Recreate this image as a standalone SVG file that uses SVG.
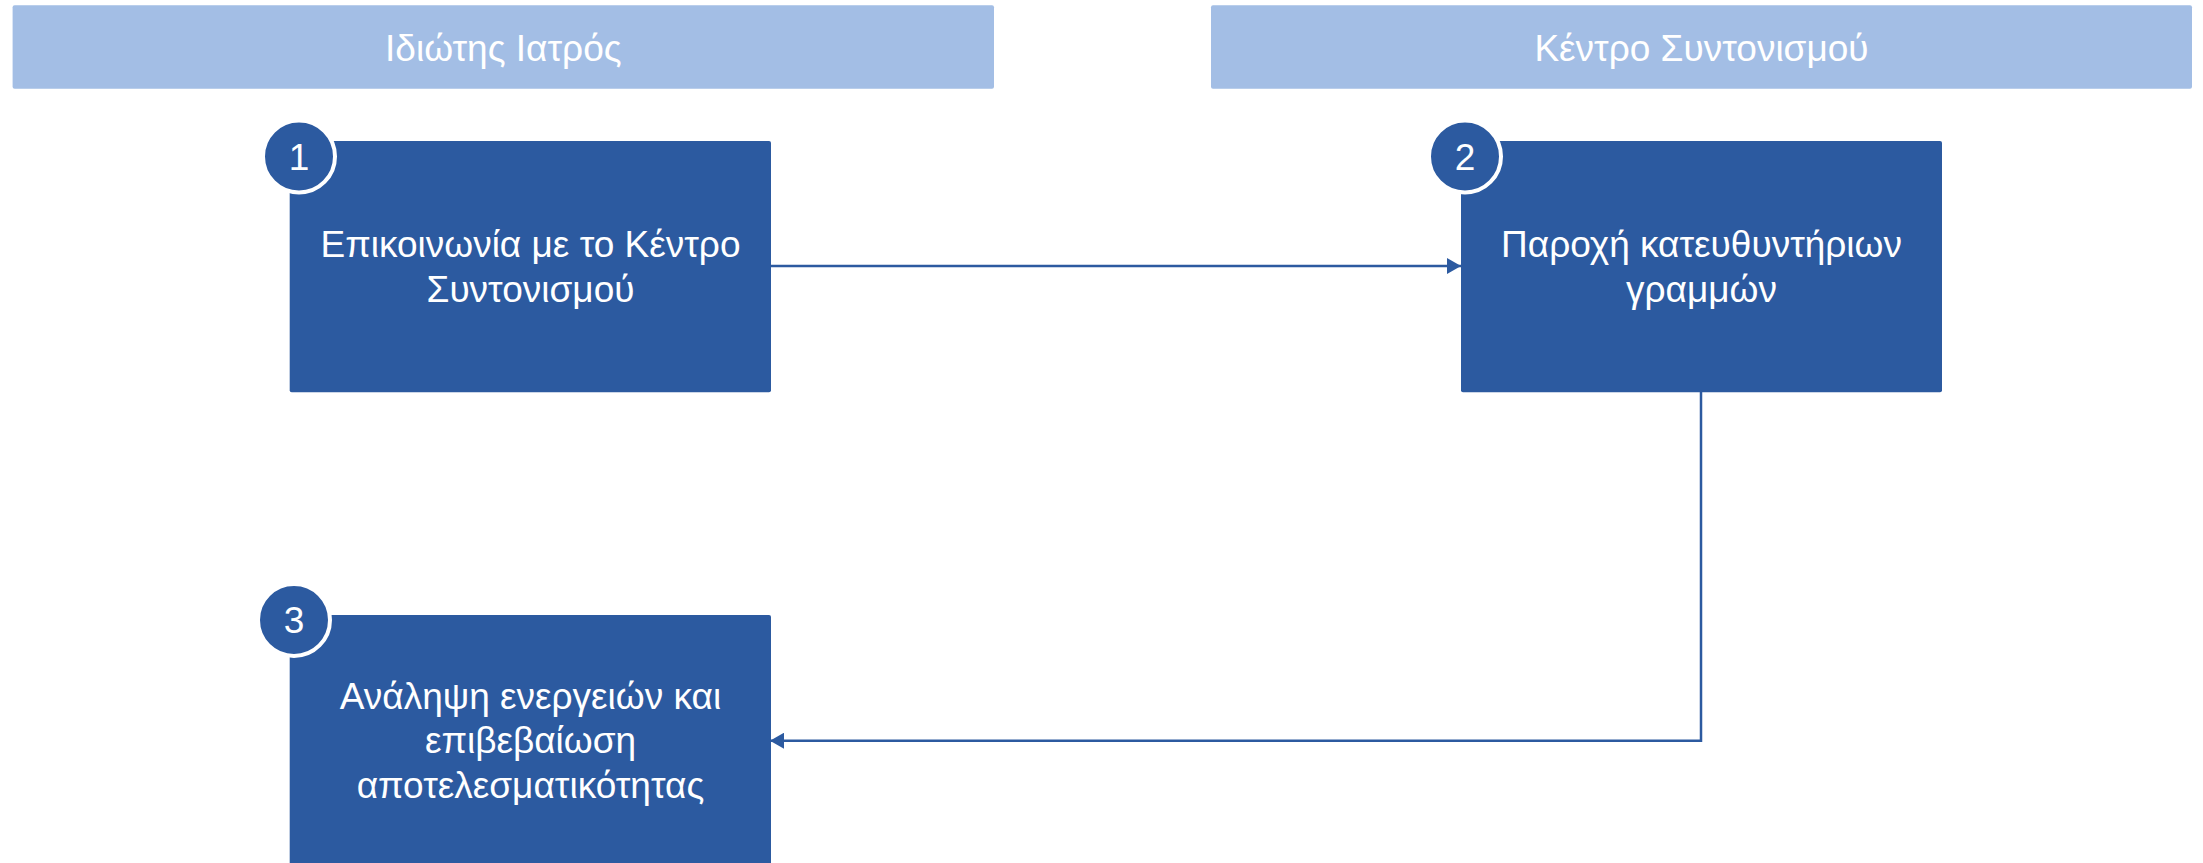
<svg xmlns="http://www.w3.org/2000/svg" width="2203" height="863" viewBox="0 0 2203 863">
<style>
.hdr{fill:#A3BEE5;}
.box{fill:#2C5AA0;}
.badge{fill:#2C5AA0;stroke:#FFFFFF;stroke-width:4;}
.t{font-family:"Liberation Sans",Arial,sans-serif;font-size:37px;fill:#FFFFFF;text-anchor:middle;}
.n{font-family:"Liberation Sans",Arial,sans-serif;font-size:37px;fill:#FFFFFF;text-anchor:middle;}
.c{fill:none;stroke:#2C5AA0;stroke-width:2.5;}
</style>
<defs>
<marker id="ah" viewBox="0 0 14 16" refX="14" refY="8" markerWidth="14" markerHeight="16" markerUnits="userSpaceOnUse" orient="auto">
<path d="M0,0 L14,8 L0,16 Z" fill="#2C5AA0"/>
</marker>
</defs>
<rect width="2203" height="863" fill="#FFFFFF"/>
<g id="lane-private-doctor">
<rect class="hdr" x="12.6" y="5.3" width="981.4" height="83.4" rx="2"/>
<text class="t" x="503.3" y="60.5">Ιδιώτης Ιατρός</text>
</g>
<g id="lane-coordination-center">
<rect class="hdr" x="1211" y="5.3" width="981" height="83.4" rx="2"/>
<text class="t" x="1701.5" y="60.5">Κέντρο Συντονισμού</text>
</g>
<g id="connectors">
<path class="c" d="M771,266 L1461,266" marker-end="url(#ah)"/>
<path class="c" d="M1701,392 L1701,740.7 L770,740.7" marker-end="url(#ah)"/>
</g>
<g id="node1">
<rect class="box" x="289.7" y="141" width="481.3" height="251.3" rx="2"/>
<text class="t" x="530.5" y="257.3">Επικοινωνία με το Κέντρο</text>
<text class="t" x="530.5" y="301.7">Συντονισμού</text>
<circle class="badge" cx="299" cy="156.5" r="36"/>
<text class="n" x="299" y="169.5">1</text>
</g>
<g id="node2">
<rect class="box" x="1461" y="141" width="481" height="251.3" rx="2"/>
<text class="t" x="1701.5" y="257.3">Παροχή κατευθυντήριων</text>
<text class="t" x="1701.5" y="301.7">γραμμών</text>
<circle class="badge" cx="1465" cy="156.5" r="36"/>
<text class="n" x="1465" y="169.5">2</text>
</g>
<g id="node3">
<rect class="box" x="289.7" y="615" width="481.3" height="251.3" rx="2"/>
<text class="t" x="530.5" y="709.3">Ανάληψη ενεργειών και</text>
<text class="t" x="530.5" y="753.3">επιβεβαίωση</text>
<text class="t" x="530.5" y="798.3">αποτελεσματικότητας</text>
<circle class="badge" cx="294" cy="620" r="36"/>
<text class="n" x="294" y="633">3</text>
</g>
</svg>
